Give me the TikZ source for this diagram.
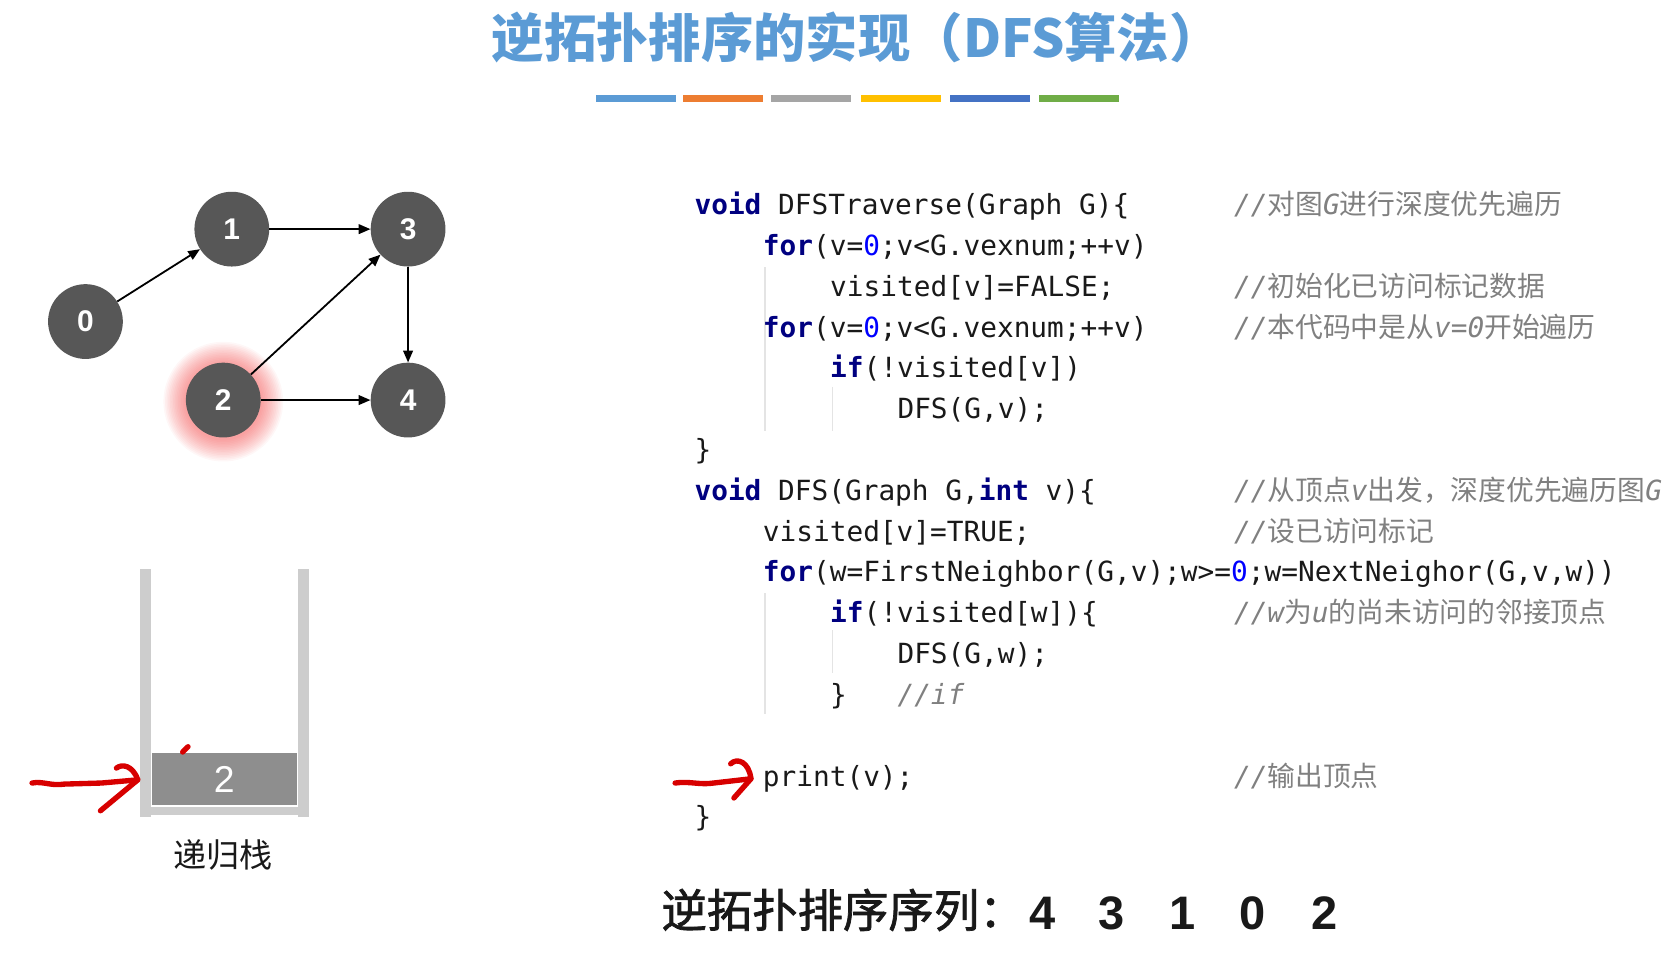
\documentclass[tikz,border=0pt]{standalone}
\usepackage{fontspec}
\usetikzlibrary{arrows.meta}
\newfontfamily\zhfont{Noto Sans CJK SC}
\newfontfamily\zhsemi[FakeBold=1.6]{Noto Sans CJK SC}
\newfontfamily\codefont{DejaVu Sans Mono}
\newfontfamily\helfont{Liberation Sans}
\definecolor{titlec}{RGB}{91,155,213}
\definecolor{barA}{RGB}{91,155,213}
\definecolor{barB}{RGB}{237,125,49}
\definecolor{barC}{RGB}{165,165,165}
\definecolor{barD}{RGB}{255,192,0}
\definecolor{barE}{RGB}{68,114,196}
\definecolor{barF}{RGB}{112,173,71}
\definecolor{nodec}{RGB}{87,87,87}
\definecolor{wallc}{RGB}{205,205,205}
\definecolor{boxc}{RGB}{142,142,142}
\definecolor{kwc}{RGB}{0,0,128}
\definecolor{zc}{RGB}{0,0,255}
\definecolor{cmtc}{RGB}{128,128,128}
\definecolor{guidec}{RGB}{228,228,228}
\definecolor{penc}{RGB}{215,0,0}
\definecolor{glowc}{RGB}{240,40,40}
\definecolor{txtc}{RGB}{25,25,25}
\newcommand\kw[1]{{\bfseries\color{kwc}#1}}
\newcommand\zr{{\color{zc}0}}
\newcommand\zh[1]{{\zhfont\upshape #1}}
\begin{document}
\begin{tikzpicture}[x=1pt,y=-1pt,
  codeln/.style={anchor=base west, inner sep=0pt, text=txtc, font=\codefont\fontsize{26}{30}\selectfont},
  cmtln/.style={anchor=base west, inner sep=0pt, text=cmtc, font=\codefont\itshape\fontsize{26}{30}\selectfont},
  vert/.style={circle, fill=nodec, minimum size=70pt, inner sep=0pt, text=white, font=\helfont\bfseries\fontsize{28}{28}\selectfont},
  gedge/.style={line width=1.7pt, -{Triangle[length=11pt,width=9pt]}},
  bar/.style={minimum width=75pt, minimum height=7pt, inner sep=0pt},
  guide/.style={draw=guidec, line width=1.2pt},
  pen/.style={draw=penc, line width=5pt, line cap=round, line join=round},
  digit/.style={anchor=base, inner sep=0pt, text=txtc, font=\helfont\bfseries\fontsize{44}{44}\selectfont}
]
\useasboundingbox (0,0) rectangle (1568,899);
% title
\node[text=titlec, font=\zhfont\bfseries\fontsize{49}{52}\selectfont] (title) at (802,35) {逆拓扑排序的实现（DFS算法）};
\node[bar, fill=barA] (b1) at (595,92) {};
\node[bar, fill=barB] (b2) at (676.5,92) {};
\node[bar, fill=barC] (b3) at (759.5,92) {};
\node[bar, fill=barD] (b4) at (843.5,92) {};
\node[bar, fill=barE] (b5) at (926.5,92) {};
\node[bar, fill=barF] (b6) at (1010,92) {};
% graph
\foreach \r in {56,54.5,...,36} {\fill[glowc, opacity=0.04] (209,376) circle (\r);}
\node[vert] (n0) at (80,301) {0};
\node[vert] (n1) at (217,214.5) {1};
\node[vert] (n3) at (382,214.5) {3};
\node[vert] (n2) at (209,374.5) {2};
\node[vert] (n4) at (382,374.5) {4};
\draw[gedge] (n0) -- (n1);
\draw[gedge] (n1) -- (n3);
\draw[gedge] (n2) -- (n3);
\draw[gedge] (n3) -- (n4);
\draw[gedge] (n2) -- (n4);
% stack
\fill[wallc] (131,533) rectangle (141,765);
\fill[wallc] (279,533) rectangle (289,765);
\fill[wallc] (141,755) rectangle (279,763);
\node[fill=boxc, minimum width=136pt, minimum height=49pt, inner sep=0pt, text=white, font=\helfont\fontsize{35}{35}\selectfont] (s2) at (210,729.5) {2};
\node[text=txtc, font=\zhfont\fontsize{31}{31}\selectfont] (slabel) at (209,800) {递归栈};
% red pen marks
\coordinate (pa0) at (30,733);
\coordinate (pa1) at (129,730);
\draw[pen] (pa0) .. controls (40,731) and (48,736) .. (60,734) -- (95,733) -- (pa1);
\draw[pen] (109,719) .. controls (114,715) and (124,716) .. (pa1) -- (94,759);
\draw[pen] (171,704) -- (176,699);
\coordinate (pb0) at (632,733);
\coordinate (pb1) at (703,729);
\draw[pen] (pb0) .. controls (645,731) and (655,735) .. (668,733) -- (pb1);
\draw[pen] (684,715) .. controls (690,709) and (701,713) .. (pb1) -- (687,747);
% code guides
\draw[guide] (716,250) -- (716,403);
\draw[guide] (779,362) -- (779,403);
\draw[guide] (716,555) -- (716,668);
\draw[guide] (779,590) -- (779,630);
% code
\node[codeln] (c1) at (650,201) {\kw{void} DFSTraverse(Graph G)\{};
\node[codeln] (c2) at (714,239.2) {\kw{for}(v=\zr;v<G.vexnum;++v)};
\node[codeln] (c3) at (777,277.4) {visited[v]=FALSE;};
\node[codeln] (c4) at (714,315.6) {\kw{for}(v=\zr;v<G.vexnum;++v)};
\node[codeln] (c5) at (777,353.8) {\kw{if}(!visited[v])};
\node[codeln] (c6) at (840,392) {DFS(G,v);};
\node[codeln] (c7) at (650,430.2) {\}};
\node[codeln] (c8) at (650,468.4) {\kw{void} DFS(Graph G,\kw{int} v)\{};
\node[codeln] (c9) at (714,506.6) {visited[v]=TRUE;};
\node[codeln] (c10) at (714,544.8) {\kw{for}(w=FirstNeighbor(G,v);w>=\zr;w=NextNeighor(G,v,w))};
\node[codeln] (c11) at (777,583) {\kw{if}(!visited[w])\{};
\node[codeln] (c12) at (840,621.2) {DFS(G,w);};
\node[codeln] (c13) at (777,659.4) {\}};
\node[cmtln] (k13) at (840,659.4) {//if};
\node[codeln] (c15) at (714,735.8) {print(v);};
\node[codeln] (c16) at (650,774) {\}};
% comments
\node[cmtln] (k1) at (1155,201) {//\zh{对图}G\zh{进行深度优先遍历}};
\node[cmtln] (k3) at (1155,277.4) {//\zh{初始化已访问标记数据}};
\node[cmtln] (k4) at (1155,315.6) {//\zh{本代码中是从}v=0\zh{开始遍历}};
\node[cmtln] (k8) at (1155,468.4) {//\zh{从顶点}v\zh{出发，深度优先遍历图}G};
\node[cmtln] (k9) at (1155,506.6) {//\zh{设已访问标记}};
\node[cmtln] (k11) at (1155,583) {//w\zh{为}u\zh{的尚未访问的邻接顶点}};
\node[cmtln] (k15) at (1155,735.8) {//\zh{输出顶点}};
% result sequence
\node[anchor=base west, inner sep=0pt, text=txtc, font=\zhsemi\fontsize{42.5}{44}\selectfont] (seq) at (619,868) {逆拓扑排序序列：};
\node[digit] (d1) at (976,870) {4};
\node[digit] (d2) at (1041,870) {3};
\node[digit] (d3) at (1107,870) {1};
\node[digit] (d4) at (1173,870) {0};
\node[digit] (d5) at (1240,870) {2};
\end{tikzpicture}
\end{document}
